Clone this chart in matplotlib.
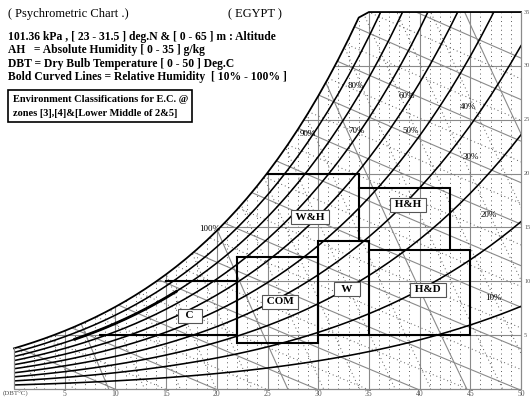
import numpy as np
import matplotlib
matplotlib.use("Agg")
import matplotlib.pyplot as plt
from matplotlib.patches import Polygon

plt.rcParams['font.family'] = ['Liberation Serif', 'DejaVu Serif']

W_PX, H_PX = 532, 398
P = 101.36  # kPa

# steam table: saturation pressure (kPa) at 0..50 deg C
t_tab = np.arange(0, 51)
ps_tab = np.array([
    0.6113, 0.6571, 0.7060, 0.7581, 0.8136, 0.8726, 0.9354, 1.0021, 1.0730, 1.1482,
    1.2282, 1.3129, 1.4028, 1.4981, 1.5989, 1.7057, 1.8188, 1.9383, 2.0647, 2.1982,
    2.3392, 2.4881, 2.6452, 2.8109, 2.9856, 3.1697, 3.3637, 3.5679, 3.7828, 4.0089,
    4.2467, 4.4966, 4.7592, 5.0351, 5.3247, 5.6286, 5.9475, 6.2818, 6.6324, 6.9997,
    7.3844, 7.7873, 8.2090, 8.6503, 9.1118, 9.5944, 10.099, 10.627, 11.177, 11.752,
    12.352])

rh_levels = [10, 20, 30, 40, 50, 60, 70, 80, 90, 100]
rh_label_px = [(493, 298), (489, 215), (471, 157), (468, 107), (411, 131),
               (407, 96), (357, 131), (356, 86), (308, 134), (210, 229)]

enthalpy_main = [10, 20, 30, 40, 50, 60, 70, 80, 90, 100, 110, 120, 130]
enthalpy_minor = [15, 25, 35, 45, 55, 65, 75, 85, 95, 105, 115, 125]
volume_main = [0.80, 0.85, 0.90, 0.95]
volume_minor = [0.78, 0.79, 0.81, 0.82, 0.83, 0.84, 0.86, 0.87, 0.88, 0.89,
                0.91, 0.92, 0.93, 0.94]

# zone outlines (DBT degC, AH g/kg)
zone_c_t, zone_c_w = [15, 22, 22, 8.5], [10, 10, 5, 5]
zone_com_t, zone_com_w = [22, 30, 30, 22, 22], [12.3, 12.3, 4.3, 4.3, 12.3]
zone_w_t, zone_w_w = [30, 30, 35, 35, 30], [5, 13.7, 13.7, 5, 5]
zone_wh_t, zone_wh_w = [22, 34, 34], [20, 20, 13.7]
zone_hh_t, zone_hh_w = [34, 43, 43], [18.7, 18.7, 12.9]
zone_hd_t, zone_hd_w = [35, 45, 45, 35], [12.9, 12.9, 5, 5]
# cold zone edge runs along the 80 % curve between these temperatures
zone_c_edge_rh = 80
zone_c_edge_t = [6, 7, 8, 9, 10, 11, 12, 13, 14, 15, 16]

zone_names = ["C", "COM", "W", "W&H", "H&H", "H&D"]
zone_label_px = [(190, 316), (280, 302), (347, 289), (310, 217), (408, 205), (428, 290)]

dbt_ticks = [5, 10, 15, 20, 25, 30, 35, 40, 45, 50]
ah_ticks = [5, 10, 15, 20, 25, 30, 35]

header = [
    "101.36 kPa , [ 23 - 31.5 ] deg.N & [ 0 - 65 ] m : Altitude",
    "AH   = Absolute Humidity [ 0 - 35 ] g/kg",
    "DBT = Dry Bulb Temperature [ 0 - 50 ] Deg.C",
    "Bold Curved Lines = Relative Humidity  [ 10% - 100% ]",
]
note = ["Environment Classifications for E.C. @",
        "zones [3],[4]&[Lower Middle of 2&5]"]


def w_of(ps):
    return 622.0 * ps / (P - ps)


# pixel frame of the chart: 0 degC at x=14, 10.14 px/degC; 0 g/kg at y=389, 10.77 px per g/kg
x0, sx = 14.0, 10.14
y0, sy = 389.0, 10.77

fig = plt.figure(figsize=(W_PX / 100, H_PX / 100), dpi=100)
ax = fig.add_axes([0, 0, 1, 1])
ax.set_xlim(-x0 / sx, (W_PX - x0) / sx)
ax.set_ylim((y0 - H_PX) / sy, y0 / sy)
ax.axis("off")


def fx(x):
    return x / W_PX


def fy(y):
    return 1 - y / H_PX


ws = w_of(ps_tab)
top = 35.0
sat = np.minimum(ws, top)
keep = t_tab <= 35
clip_xy = np.column_stack([
    np.concatenate([[0], t_tab[keep], [50, 50]]),
    np.concatenate([[0], sat[keep], [top, 0]]),
])
clip = Polygon(clip_xy, closed=True, transform=ax.transData, fill=False, lw=0)
ax.add_patch(clip)

grey = "#8a8a8a"
dot = "#5a5a5a"


def clipped(lines):
    for ln in lines:
        ln.set_clip_path(clip)


# dotted DBT lines every degree
for t in range(1, 50):
    if t % 5:
        clipped(ax.plot([t, t], [0, top], color=dot, lw=0.7, ls=(0, (1, 3.5))))
# solid DBT / AH grid
for t in dbt_ticks[:-1]:
    clipped(ax.plot([t, t], [0, top], color=grey, lw=0.8))
for w in ah_ticks[:-1]:
    clipped(ax.plot([0, 50], [w, w], color=grey, lw=0.8))

# enthalpy lines
tt = np.linspace(-1, 51, 60)
for h in enthalpy_main:
    clipped(ax.plot(tt, (h - 1.006 * tt) / (2501 + 1.86 * tt) * 1000, color=grey, lw=0.8))
for h in enthalpy_minor:
    clipped(ax.plot(tt, (h - 1.006 * tt) / (2501 + 1.86 * tt) * 1000, color=dot, lw=0.7,
                    ls=(0, (1, 3))))

# specific volume lines
for v in volume_main:
    clipped(ax.plot(tt, (v * P / (0.287042 * (tt + 273.15)) - 1) / 1.6078 * 1000,
                    color=grey, lw=0.8))
for v in volume_minor:
    clipped(ax.plot(tt, (v * P / (0.287042 * (tt + 273.15)) - 1) / 1.6078 * 1000,
                    color=dot, lw=0.7, ls=(0, (1, 3))))

# relative humidity curves
for rh in rh_levels[:-1]:
    phi = rh / 100.0
    clipped(ax.plot(t_tab, w_of(phi * ps_tab), color="black", lw=1.15))

# outline: saturation curve and top, right, bottom, left edges
ax.plot(np.append(t_tab[keep], 50), np.append(sat[keep], top), color="black", lw=1.3)
ax.plot([50, 50, 0, 0], [top, 0, 0, ws[0]], color=grey, lw=0.9)

# environment zones
for zt, zw in [(zone_c_t, zone_c_w), (zone_com_t, zone_com_w), (zone_w_t, zone_w_w),
               (zone_wh_t, zone_wh_w), (zone_hh_t, zone_hh_w), (zone_hd_t, zone_hd_w)]:
    clipped(ax.plot(zt, zw, color="black", lw=1.5, solid_joinstyle="miter"))
edge_ps = ps_tab[zone_c_edge_t] * zone_c_edge_rh / 100.0
ax.plot(zone_c_edge_t, w_of(edge_ps), color="black", lw=2.0)

for name, (x, y) in zip(zone_names, zone_label_px):
    pad = "  " if name in ("C", "W") else " "
    fig.text(fx(x), fy(y), pad + name + pad, ha="center", va="center", fontsize=8,
             fontweight="bold",
             bbox=dict(boxstyle="square,pad=0.2", fc="white", ec="#555555", lw=0.8))

for rh, (x, y) in zip(rh_levels, rh_label_px):
    fig.text(fx(x), fy(y), f"{rh}%", ha="center", va="center", fontsize=6.5)

# axis numbers
for t in dbt_ticks:
    fig.text(fx(x0 + sx * t), fy(394), str(t), ha="center", va="center", fontsize=5.5,
             color="#555555")
fig.text(fx(3), fy(394), "(DBT°C)", ha="left", va="center", fontsize=5, color="#555555")
for w in ah_ticks:
    fig.text(fx(524), fy(y0 - sy * w), str(w), ha="left", va="center", fontsize=4.5,
             color="#555555")

# header text
fig.text(fx(8), fy(14), "( Psychrometric Chart .)", fontsize=9, va="center")
fig.text(fx(228), fy(14), "( EGYPT )", fontsize=9, va="center")
for i, line in enumerate(header):
    fig.text(fx(8), fy(37 + 13.4 * i), line, fontsize=8.4, fontweight="bold", va="center")
for i, line in enumerate(note):
    fig.text(fx(13), fy(99 + 14 * i), line, fontsize=7.5, fontweight="bold", va="center")
fig.patches.append(plt.Rectangle((fx(8), fy(122)), fx(184), 32 / H_PX, fill=False,
                                 ec="black", lw=1.2, transform=fig.transFigure))

fig.savefig("out.png", dpi=100)
